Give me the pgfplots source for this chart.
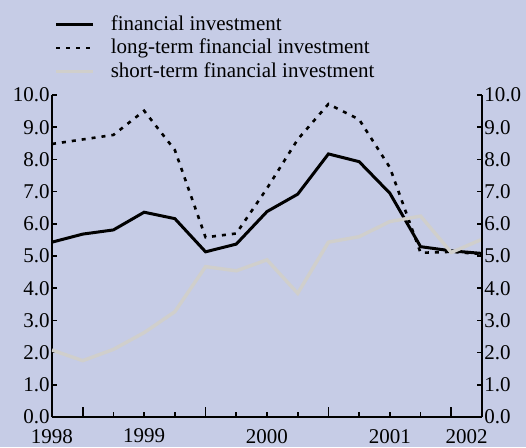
\documentclass[border=0pt]{standalone}
\usepackage{fontspec}
\setmainfont{Liberation Serif}
\usepackage{pgfplots}
\pgfplotsset{compat=1.18}
\definecolor{bg}{HTML}{C6CCE6}
\definecolor{shortgray}{HTML}{D0CFCC}

\pgfplotsset{
  finstyle/.style={
    scale only axis, width=215pt, height=161pt,
    xmin=0, xmax=14, ymin=0, ymax=10,
    ytick={0,1,...,10},
    tick align=inside,
    major tick length=2.5pt,
    axis line style={line width=0.8pt},
    every tick/.style={line width=0.8pt, black},
    tick label style={font=\fontsize{10.5}{12}\selectfont, /pgf/number format/assume math mode=true},
    yticklabel style={inner xsep=1pt, /pgf/number format/fixed, /pgf/number format/fixed zerofill,
      /pgf/number format/precision=1},
  }
}

\begin{document}
\begin{tikzpicture}
\fill[bg] (-26pt,-15pt) rectangle (237pt,208.5pt);

\begin{axis}[
    finstyle,
    axis x line*=bottom, axis y line*=left,
    xtick={0,1,...,14}, xticklabels={},
    extra x ticks={0,3,7,11,13.5},
    extra x tick labels={1998,1999,2000,2001,2002},
    extra x tick style={major tick length=0pt, xticklabel style={yshift=-2.5pt}},
    legend style={at={(axis description cs:0,1)}, anchor=south west, xshift=-2pt, yshift=3pt,
      draw=none, fill=none, font=\fontsize{10.5}{12}\selectfont, row sep=-1pt,
      /tikz/every odd column/.append style={column sep=6pt}},
    legend cell align=left,
    legend image code/.code={\draw[#1] (0pt,0pt) -- (18.5pt,0pt);},
]
\addplot[black, line width=1.5pt] coordinates {
  (0,5.43) (1,5.68) (2,5.81) (3,6.36) (4,6.16) (5,5.13) (6,5.37) (7,6.38)
  (8,6.92) (9,8.17) (10,7.93) (11,6.95) (12,5.29) (13,5.16) (14,5.08)};
\addlegendentry{financial investment}
\addplot[black, line width=1.3pt, dash pattern=on 2pt off 3pt] coordinates {
  (0,8.48) (1,8.62) (2,8.76) (3,9.51) (4,8.29) (5,5.58) (6,5.70) (7,7.10)
  (8,8.62) (9,9.72) (10,9.24) (11,7.75) (12,5.10) (13,5.13) (14,5.06)};
\addlegendentry{long-term financial investment}
\addplot[shortgray, line width=1.7pt] coordinates {
  (0,2.08) (1,1.75) (2,2.10) (3,2.62) (4,3.27) (5,4.67) (6,4.54) (7,4.88)
  (8,3.84) (9,5.43) (10,5.60) (11,6.07) (12,6.24) (13,5.11) (14,5.52)};
\addlegendentry{short-term financial investment}
\end{axis}

% right-hand axis with its own labels
\begin{axis}[
    finstyle,
    axis x line=none, axis y line*=right,
]
\end{axis}

% longer quarter ticks on the time axis
\begin{axis}[
    finstyle,
    axis x line*=bottom, axis y line=none,
    xtick={1,5,9,13}, xticklabels={},
    major tick length=5pt,
]
\end{axis}

\pgfresetboundingbox
\path[use as bounding box] (-26pt,-15pt) rectangle (237pt,208.5pt);
\end{tikzpicture}
\end{document}
